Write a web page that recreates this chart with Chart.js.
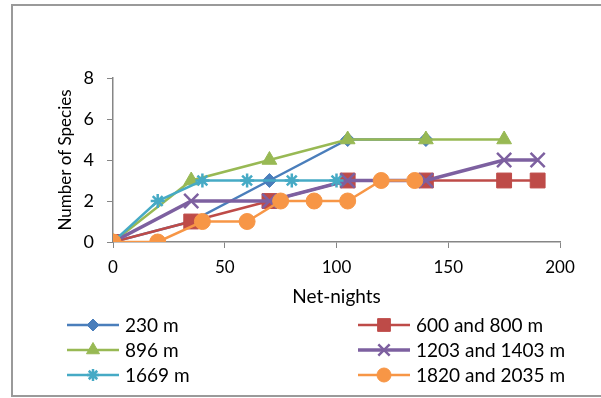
<!DOCTYPE html>
<html>
<head>
<meta charset="utf-8">
<script src="https://cdn.jsdelivr.net/npm/chart.js@4"></script>
<style>
  html, body { margin: 0; padding: 0; background: #fff; }
  #wrap { width: 601px; height: 398px; }
</style>
</head>
<body>
<div id="wrap"><canvas id="grafico" width="601" height="398"></canvas></div>
<script>
// Datos (net-nights vs número de especies)
const labels230 = [0, 35, 70, 105, 140];
const species230 = [0, 1, 3, 5, 5];

const labels600 = [0, 35, 70, 105, 140, 175, 190];
const species600 = [0, 1, 2, 3, 3, 3, 3];

const labels896 = [0, 35, 70, 105, 140, 175];
const species896 = [0, 3, 4, 5, 5, 5];

const labels1203 = [0, 35, 70, 105, 140, 175, 190];
const species1203 = [0, 2, 2, 3, 3, 4, 4];

const labels1669 = [0, 20, 40, 60, 80, 100];
const species1669 = [0, 2, 3, 3, 3, 3];

const labels1820 = [0, 20, 40, 60, 75, 90, 105, 120, 135];
const species1820 = [0, 0, 1, 1, 2, 2, 2, 3, 3];

const seriesNames = ['230 m', '600 and 800 m', '896 m', '1203 and 1403 m', '1669 m', '1820 and 2035 m'];
const xTicks = [0, 50, 100, 150, 200];
const yTicks = [0, 2, 4, 6, 8];

const FONT = 'Lato, "Open Sans", sans-serif';

// junta x e y en puntos
const toPoints = (xs, ys) => xs.map((x, i) => ({ x: x, y: ys[i] }));

const makeSerie = (i, xs, ys, color, style, radius, legendRadius, width) => ({
    label: seriesNames[i],
    data: toPoints(xs, ys),
    borderColor: color,
    backgroundColor: color,
    pointBackgroundColor: color,
    pointBorderColor: color,
    borderWidth: width,
    pointStyle: style,
    pointRadius: radius,
    pointHoverRadius: radius,
    pointBorderWidth: (style === 'crossRot' || style === 'star') ? 2.5 : 1,
    legendRadius: legendRadius,
    tension: 0,
    order: 10 - i // las últimas series quedan encima
});

const datasets = [
    makeSerie(0, labels230, species230, '#4A7EBB', 'rectRot', 7, 6, 2.5),
    makeSerie(1, labels600, species600, '#BE4B48', 'rect', 10.5, 9, 2.5),
    makeSerie(2, labels896, species896, '#98B954', 'triangle', 8.5, 7.5, 2.5),
    makeSerie(3, labels1203, species1203, '#7D60A0', 'crossRot', 10, 8, 3.5),
    makeSerie(4, labels1669, species1669, '#46AAC5', 'star', 7, 6, 2.5),
    makeSerie(5, labels1820, species1820, '#F79646', 'circle', 8, 7, 2.5)
];

// Borde exterior del gráfico
const marcoPlugin = {
    id: 'marco',
    beforeDraw(chart) {
        const ctx = chart.ctx;
        ctx.save();
        ctx.fillStyle = '#fff';
        ctx.fillRect(0, 0, chart.width, chart.height);
        ctx.strokeStyle = '#9a9a9a';
        ctx.lineWidth = 2;
        ctx.strokeRect(12, 5, 620, 391);
        ctx.restore();
    }
};

// Leyenda en dos columnas
const leyendaPlugin = {
    id: 'leyenda',
    afterDraw(chart) {
        const ctx = chart.ctx;
        chart.data.datasets.forEach((ds, i) => {
            const col = i % 2;
            const row = Math.floor(i / 2);
            const x0 = col === 0 ? 67 : 358;
            const y = 325 + row * 25;
            ctx.save();
            ctx.strokeStyle = ds.borderColor;
            ctx.lineWidth = ds.borderWidth;
            ctx.beginPath();
            ctx.moveTo(x0, y);
            ctx.lineTo(x0 + 52, y);
            ctx.stroke();
            ctx.fillStyle = ds.pointBackgroundColor;
            ctx.strokeStyle = ds.pointBorderColor;
            ctx.lineWidth = ds.pointBorderWidth;
            Chart.helpers.drawPoint(ctx, {
                pointStyle: ds.pointStyle,
                radius: ds.legendRadius,
                rotation: 0,
                borderWidth: ds.pointBorderWidth
            }, x0 + 26, y);
            ctx.fillStyle = '#000';
            ctx.font = '19px ' + FONT;
            ctx.textBaseline = 'middle';
            ctx.textAlign = 'left';
            ctx.fillText(ds.label, x0 + 58, y + 1);
            ctx.restore();
        });
    }
};

new Chart(document.getElementById('grafico'), {
    type: 'line',
    data: { datasets: datasets },
    options: {
        responsive: false,
        animation: false,
        layout: { padding: { left: 55, right: 41, top: 78, bottom: 85 } },
        plugins: {
            legend: { display: false },
            tooltip: { enabled: false }
        },
        scales: {
            x: {
                type: 'linear',
                min: 0,
                max: 200,
                afterBuildTicks: (s) => { s.ticks = xTicks.map(v => ({ value: v })); },
                afterFit: (s) => { s.height = 71; },
                grid: { drawOnChartArea: false, drawTicks: true, tickLength: 6, color: '#868686' },
                border: { color: '#868686', width: 1.5 },
                ticks: { color: '#000', font: { family: FONT, size: 17 }, padding: 9, maxRotation: 0 },
                title: { display: true, text: 'Net-nights', color: '#000', font: { family: FONT, size: 19 }, padding: { top: 0, bottom: 5 } }
            },
            y: {
                min: 0,
                max: 8,
                afterBuildTicks: (s) => { s.ticks = yTicks.map(v => ({ value: v })); },
                afterFit: (s) => { s.width = 58; },
                grid: { drawOnChartArea: false, drawTicks: true, tickLength: 6, color: '#868686' },
                border: { color: '#868686', width: 1.5 },
                ticks: { color: '#000', font: { family: FONT, size: 18 }, padding: 13 },
                title: { display: true, text: 'Number of Species', color: '#000', font: { family: FONT, size: 17 }, padding: { top: 0, bottom: 0 } }
            }
        }
    },
    plugins: [marcoPlugin, leyendaPlugin]
});
</script>
</body>
</html>
